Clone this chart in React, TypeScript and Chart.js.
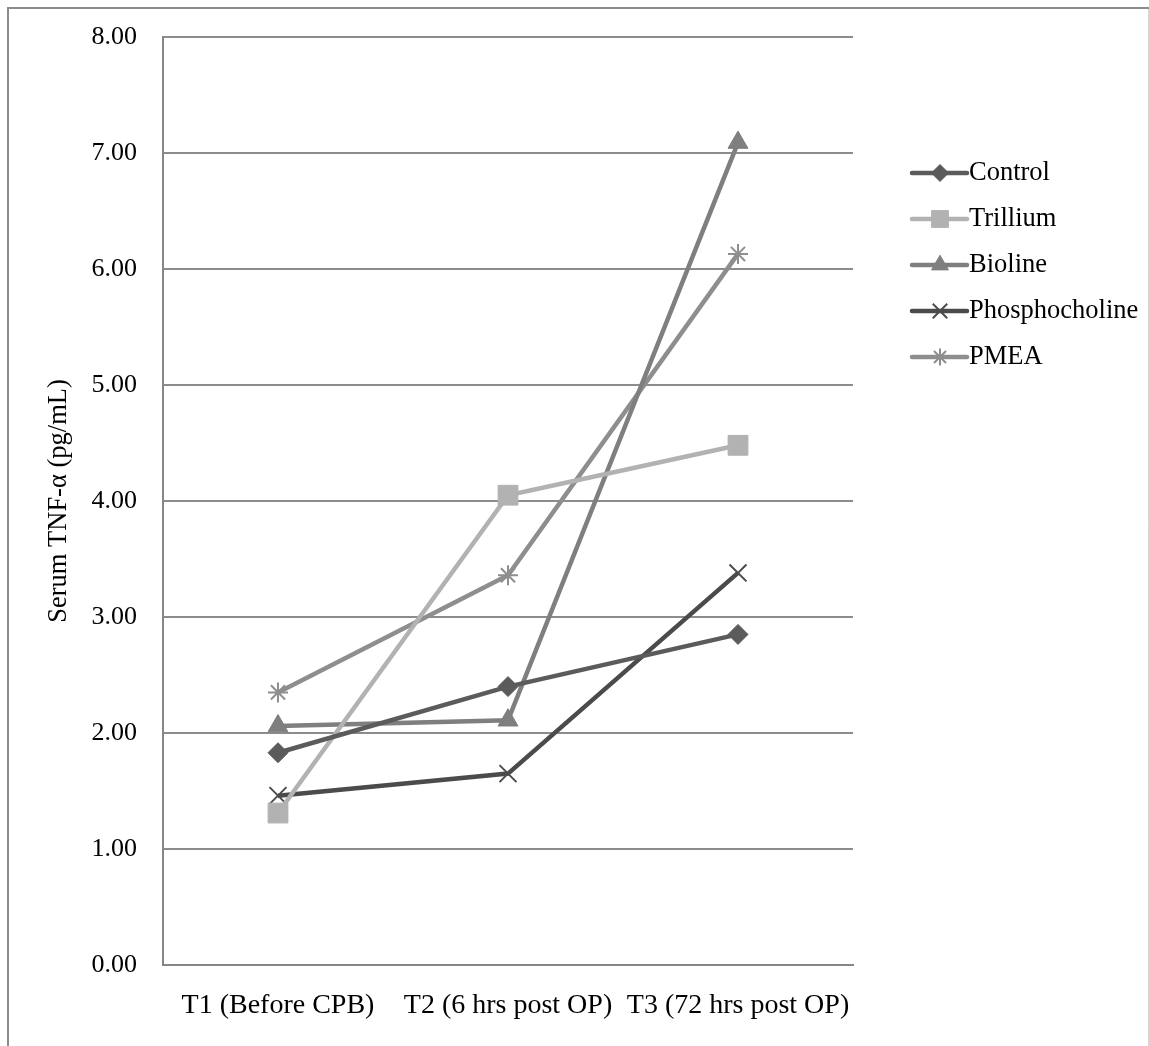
import React, { useEffect, useRef } from "react";
import { Chart, registerables } from "chart.js";
import { drawPoint } from "chart.js/helpers";

Chart.register(...registerables);

const categories = ["T1 (Before CPB)", "T2 (6 hrs post OP)", "T3 (72 hrs post OP)"];
const seriesNames = ["Control", "Trillium", "Bioline", "Phosphocholine", "PMEA"];
const control = [1.83, 2.4, 2.85];
const trillium = [1.31, 4.05, 4.48];
const bioline = [2.06, 2.11, 7.09];
const phosphocholine = [1.46, 1.65, 3.38];
const pmea = [2.35, 3.36, 6.13];
const yMin = 0;
const yMax = 8;
const yStep = 1;
const yAxisTitle = "Serum TNF-\u03b1 (pg/mL)";

const FONT = '"Liberation Serif", "Times New Roman", serif';

const framePlugin = {
  id: "frame",
  beforeDraw(chart: any) {
    const ctx = chart.ctx;
    ctx.save();
    ctx.fillStyle = "#ffffff";
    ctx.fillRect(0, 0, chart.width, chart.height);
    ctx.strokeStyle = "#8c8c8c";
    ctx.lineWidth = 2;
    ctx.beginPath();
    ctx.moveTo(8, chart.height + 2);
    ctx.lineTo(8, 8);
    ctx.lineTo(chart.width + 2, 8);
    ctx.stroke();
    ctx.strokeStyle = "#d6d6d6";
    ctx.lineWidth = 1;
    ctx.beginPath();
    ctx.moveTo(chart.width - 0.5, 9);
    ctx.lineTo(chart.width - 0.5, chart.height);
    ctx.stroke();
    ctx.restore();
  },
};

const legendPlugin = {
  id: "customLegend",
  afterDraw(chart: any) {
    const ctx = chart.ctx;
    chart.data.datasets.forEach((ds: any, i: number) => {
      const y = 173 + i * 46;
      ctx.save();
      ctx.strokeStyle = ds.borderColor;
      ctx.lineWidth = 4.5;
      ctx.lineCap = "round";
      ctx.beginPath();
      ctx.moveTo(912, y);
      ctx.lineTo(967, y);
      ctx.stroke();
      ctx.fillStyle = ds.pointBackgroundColor;
      ctx.strokeStyle = ds.pointBorderColor;
      ctx.lineWidth = ds.pointBorderWidth;
      ctx.lineCap = "butt";
      drawPoint(
        ctx,
        { pointStyle: ds.pointStyle, radius: ds.pointRadius * 0.85, borderWidth: ds.pointBorderWidth, rotation: 0 } as any,
        940,
        y
      );
      ctx.fillStyle = "#000000";
      ctx.font = `26.5px ${FONT}`;
      ctx.textBaseline = "middle";
      ctx.textAlign = "left";
      ctx.fillText(ds.label, 969, y);
      ctx.restore();
    });
  },
};

function makeDataset(label: string, data: number[], color: string, style: string, radius: number, bw: number) {
  return {
    label,
    data,
    borderColor: color,
    backgroundColor: color,
    borderWidth: 4.5,
    tension: 0,
    pointStyle: style,
    pointRadius: radius,
    pointHoverRadius: radius,
    pointBackgroundColor: color,
    pointBorderColor: color,
    pointBorderWidth: bw,
  };
}

export default function App() {
  const ref = useRef<HTMLCanvasElement>(null);
  useEffect(() => {
    if (!ref.current) return;
    const chart = new Chart(ref.current, {
      type: "line",
      data: {
        labels: categories,
        datasets: [
          makeDataset(seriesNames[0], control, "#5b5b5b", "rectRot", 10, 1),
          makeDataset(seriesNames[1], trillium, "#b2b2b2", "rect", 14, 1),
          makeDataset(seriesNames[2], bioline, "#7f7f7f", "triangle", 11.5, 1),
          makeDataset(seriesNames[3], phosphocholine, "#4b4b4b", "crossRot", 12, 2),
          makeDataset(seriesNames[4], pmea, "#8e8e8e", "star", 10, 2),
        ] as any,
      },
      options: {
        responsive: false,
        animation: false,
        layout: { padding: { top: 37, right: 296, bottom: 0, left: 0 } },
        font: { family: FONT, size: 26 } as any,
        plugins: {
          legend: { display: false },
          tooltip: { enabled: false },
        },
        scales: {
          x: {
            type: "category",
            offset: true,
            grid: { display: false, drawTicks: false },
            border: { display: true, color: "#868686", width: 2 },
            ticks: { color: "#000", font: { family: FONT, size: 28 }, padding: 24, maxRotation: 0, autoSkip: false },
            afterFit: (scale: any) => {
              scale.height = 81;
              scale.paddingLeft = 0;
              scale.paddingRight = 0;
            },
          },
          y: {
            min: yMin,
            max: yMax,
            grid: { color: "#8c8c8c", lineWidth: 2, drawTicks: false },
            border: { display: true, color: "#868686", width: 2 },
            ticks: {
              stepSize: yStep,
              color: "#000",
              font: { family: FONT, size: 26 },
              padding: 26,
              callback: (v: any) => Number(v).toFixed(2),
            },
            title: {
              display: true,
              text: yAxisTitle,
              color: "#000",
              font: { family: FONT, size: 26.5 },
              padding: { top: 43, bottom: 0 },
            },
            afterFit: (scale: any) => {
              scale.width = 163;
              scale.paddingTop = 0;
              scale.paddingBottom = 0;
            },
          },
        },
      },
      plugins: [framePlugin, legendPlugin],
    });
    return () => chart.destroy();
  }, []);
  return (
    <div style={{ position: "absolute", left: 0, top: 0, width: 1149, height: 1046, overflow: "hidden" }}>
      <canvas ref={ref} width={1149} height={1046} style={{ display: "block", width: 1149, height: 1046 }} />
    </div>
  );
}
